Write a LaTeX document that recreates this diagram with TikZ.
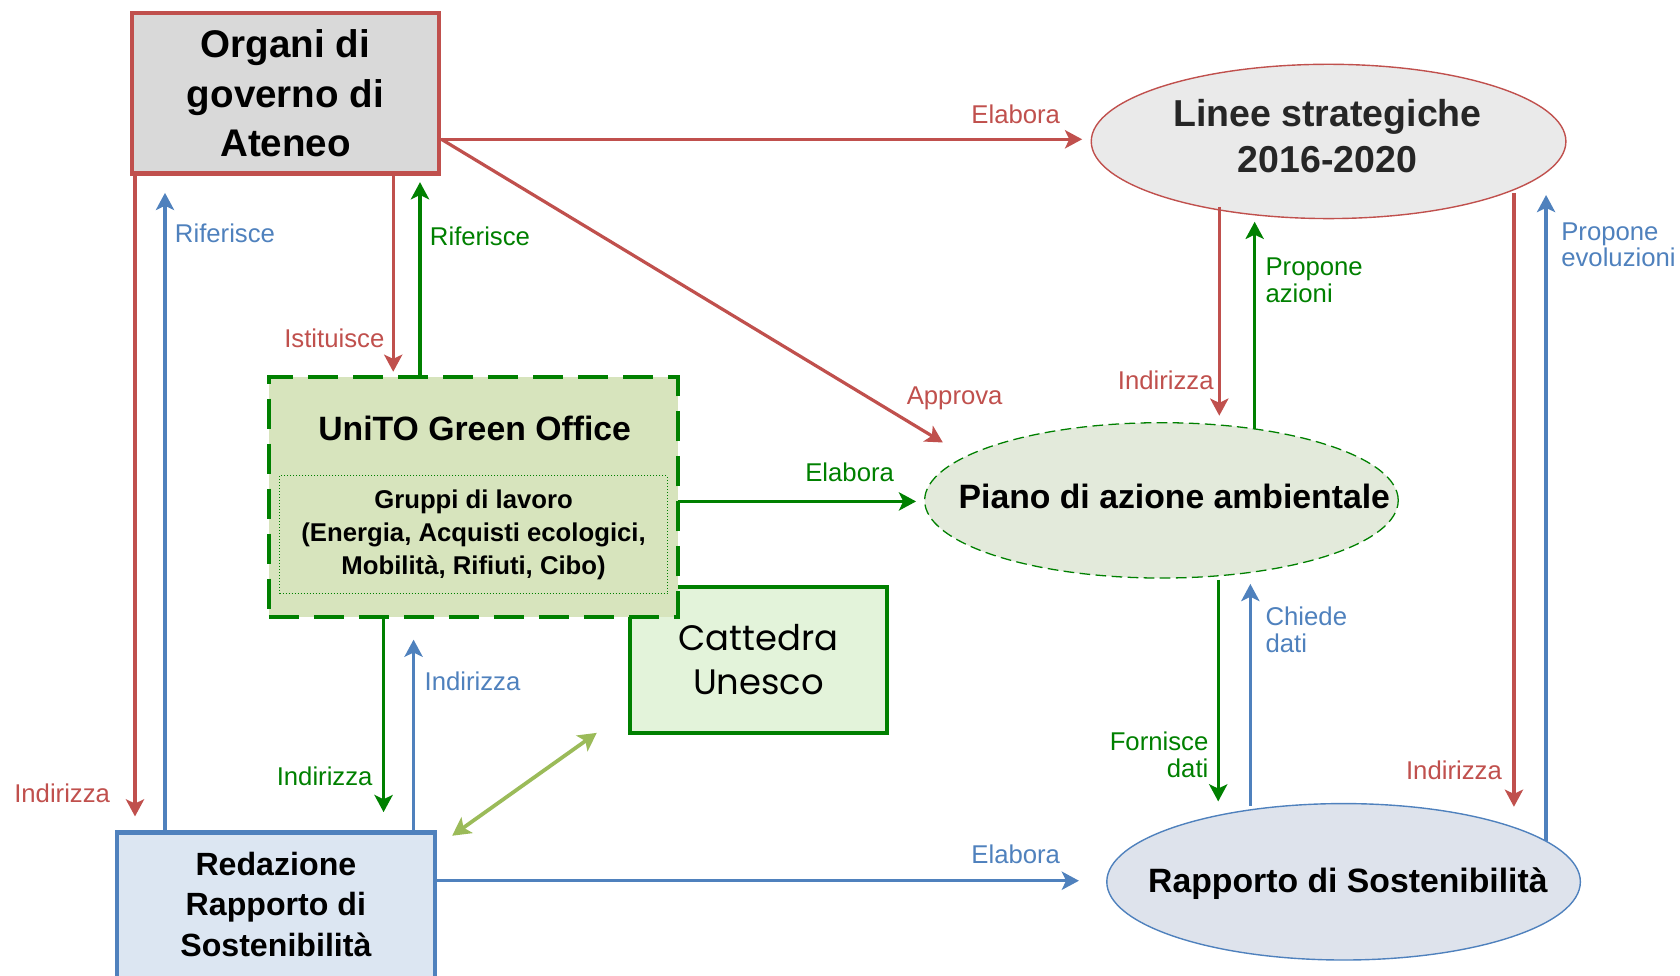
\documentclass[tikz,border=0pt]{standalone}
\usepackage{fontspec}
\setmainfont{Liberation Sans}
\newfontfamily\cattfont{Poppins}
\usetikzlibrary{shapes.geometric,arrows.meta}
\definecolor{cred}{HTML}{C0504D}
\definecolor{cblue}{HTML}{4F81BD}
\definecolor{cgreen}{HTML}{008000}
\definecolor{colive}{HTML}{9BBB59}
\definecolor{fgray}{HTML}{D9D9D9}
\definecolor{flinee}{HTML}{EAEAEA}
\definecolor{fpiano}{HTML}{E3EADB}
\definecolor{frapp}{HTML}{DEE3EC}
\definecolor{fgreen}{HTML}{D7E4BD}
\definecolor{fcatt}{HTML}{E3F3DA}
\definecolor{fred}{HTML}{DCE6F2}
\definecolor{tdark}{HTML}{262626}
\begin{document}
\begin{tikzpicture}[x=1pt,y=-1pt,
  boxnode/.style={rectangle,inner sep=0pt,outer sep=0pt,line width=4pt,align=center},
  ellnode/.style={ellipse,inner sep=0pt,outer sep=0pt,line width=1.3pt},
  bigtxt/.style={font=\fontsize{30}{38}\selectfont\bfseries,align=center,inner sep=0pt},
  lab/.style={font=\fontsize{24}{25}\selectfont,inner sep=0pt,align=left},
  arr/.style={line width=3pt,-{Stealth[length=16pt,width=17pt,inset=4pt]}},
  redarr/.style={arr,draw=cred},
  bluearr/.style={arr,draw=cblue},
  greenarr/.style={arr,draw=cgreen},
]
\useasboundingbox (0,0) rectangle (1568,910);

% nodes
\node[boxnode,draw=cred,fill=fgray,minimum width=287pt,minimum height=150pt,
      font=\fontsize{36}{46}\selectfont\bfseries] (organi) at (266.5,87) {Organi di\\governo di\\Ateneo};
\node[ellnode,draw=cred,fill=flinee,minimum width=443pt,minimum height=144pt] (linee) at (1240,132) {};
\node[inner sep=0pt,align=center,text=tdark,font=\fontsize{35}{43}\selectfont\bfseries] (lineetxt) at (1239,127) {Linee strategiche\\2016-2020};
\node[ellnode,draw=cgreen,fill=fpiano,dash pattern=on 10pt off 5pt,line width=1.2pt,
      minimum width=442pt,minimum height=145pt] (piano) at (1084,467) {};
\node[inner sep=0pt,font=\fontsize{31.5}{36}\selectfont\bfseries] (pianotxt) at (1096,463) {Piano di azione ambientale};
\node[ellnode,draw=cblue,fill=frapp,minimum width=442pt,minimum height=146pt] (rapporto) at (1254,823) {};
\node[inner sep=0pt,font=\fontsize{31.5}{36}\selectfont\bfseries] (rapptxt) at (1258,825) {Rapporto di Sostenibilit\`a};

\node[boxnode,draw=cgreen,fill=fcatt,minimum width=240pt,minimum height=136pt,
      font=\cattfont\fontsize{33}{41}\selectfont] (cattedra) at (708,616) {Cattedra\\Unesco};
\node[boxnode,draw=cgreen,fill=fgreen,dash pattern=on 28pt off 14pt,
      minimum width=382pt,minimum height=224pt] (green) at (442,464) {};
\node[bigtxt,font=\fontsize{31.5}{38}\selectfont\bfseries] (greentitle) at (443,400) {UniTO Green Office};
\node[rectangle,draw=cgreen,dotted,line width=0.8pt,inner sep=0pt,
      minimum width=362pt,minimum height=110pt,align=center,
      font=\fontsize{24}{31}\selectfont\bfseries] (gruppi) at (442,499)
      {Gruppi di lavoro\\(Energia, Acquisti ecologici,\\Mobilit\`a, Rifiuti, Cibo)};

\node[boxnode,draw=cblue,fill=fred,minimum width=297pt,minimum height=160pt] (redazione) at (257.5,857) {};
\node[bigtxt] (redtext) at (257.5,844) {Redazione\\Rapporto di\\Sostenibilit\`a};

% connectors
\draw[redarr] ([yshift=-43pt]organi.east) -- ([xshift=-8.5pt,yshift=2pt]linee.west);
\draw[redarr] ([xshift=2pt,yshift=-43pt]organi.east) -- ([xshift=-204pt,yshift=54pt]piano.center);
\draw[redarr] ([xshift=-140.5pt]organi.south) -- ([xshift=-131.5pt,yshift=15pt]redazione.north);
\draw[bluearr] ([xshift=-103.5pt]redazione.north) -- ([xshift=-112.5pt,yshift=-18pt]organi.south);
\draw[redarr] ([xshift=100.5pt]organi.south) -- ([xshift=-75pt,yshift=5pt]green.north);
\draw[greenarr] ([xshift=-50pt]green.north) -- ([xshift=125.5pt,yshift=-8pt]organi.south);
\draw[greenarr] ([yshift=-4pt]green.east) -- ([xshift=-8pt,yshift=-1pt]piano.west);
\draw[greenarr] ([xshift=-84pt]green.south) -- ([xshift=100.5pt,yshift=19pt]redazione.north);
\draw[bluearr] ([xshift=128.5pt]redazione.north) -- ([xshift=-56pt,yshift=-21pt]green.south);
\draw[line width=3.5pt,draw=colive,{Stealth[length=17pt,width=18pt,inset=4pt]}-{Stealth[length=17pt,width=18pt,inset=4pt]}]
  ([xshift=16pt,yshift=-3pt]redazione.north east) -- ([xshift=-31pt]cattedra.south west);
\draw[bluearr] ([yshift=-45pt]redazione.north east) -- ([xshift=-26pt,yshift=1pt]rapporto.west);
\draw[redarr] ([xshift=-102pt,yshift=-61pt]linee.center) -- ([xshift=54pt,yshift=79pt]piano.center);
\draw[greenarr] ([xshift=87pt,yshift=67pt]piano.center) -- ([xshift=-69pt,yshift=-75pt]linee.center);
\draw[redarr] ([xshift=173pt,yshift=-48pt]linee.center) -- ([xshift=159pt,yshift=70pt]rapporto.center);
\draw[bluearr] ([xshift=189pt,yshift=38pt]rapporto.center) -- ([xshift=203pt,yshift=-50pt]linee.center);
\draw[greenarr] ([xshift=53pt,yshift=-74pt]piano.center) -- ([xshift=-117pt,yshift=75pt]rapporto.center);
\draw[bluearr] ([xshift=-87pt,yshift=71pt]rapporto.center) -- ([xshift=83pt,yshift=-78pt]piano.center);

% labels
\node[lab,text=cred] (l1) at (948,107) {Elabora};
\node[lab,text=cred] (l2) at (891,372) {Approva};
\node[lab,text=cred] (l3) at (58,740) {Indirizza};
\node[lab,text=cblue] (l4) at (210,218) {Riferisce};
\node[lab,text=cred] (l5) at (312,316) {Istituisce};
\node[lab,text=cgreen] (l6) at (448,221) {Riferisce};
\node[lab,text=cgreen] (l7) at (793,441) {Elabora};
\node[lab,text=cgreen] (l8) at (303,725) {Indirizza};
\node[lab,text=cblue] (l9) at (441,636) {Indirizza};
\node[lab,text=cblue] (l10) at (948,797) {Elabora};
\node[lab,text=cred] (l11) at (1088,355) {Indirizza};
\node[lab,text=cgreen,anchor=west] (l12) at (1181,261.5) {Propone\\azioni};
\node[lab,text=cred] (l13) at (1357,719) {Indirizza};
\node[lab,text=cblue,anchor=west] (l14) at (1457,228.5) {Propone\\evoluzioni};
\node[lab,text=cgreen,anchor=east,align=right] (l15) at (1128,704.5) {Fornisce\\dati};
\node[lab,text=cblue,anchor=west] (l16) at (1181,587.5) {Chiede\\dati};
\end{tikzpicture}
\end{document}
